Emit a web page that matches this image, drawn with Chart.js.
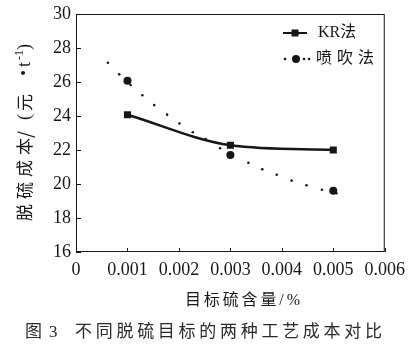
<!DOCTYPE html>
<html>
<head>
<meta charset="utf-8">
<script src="https://cdn.jsdelivr.net/npm/chart.js@4/dist/chart.umd.min.js"></script>
<style>
  html, body { margin: 0; padding: 0; background: #fff; }
</style>
</head>
<body>
<canvas id="chart" width="414" height="352"></canvas>
<script>
// target sulfur content (%) at which both processes were compared
const targets = [0.001, 0.003, 0.005];
const krCost = [24.07, 22.28, 22.0];
const sprayCost = [26.07, 21.7, 19.6];

// dotted trend line of the spray process, read dot by dot off the figure
const sprayTrendX = [0.00062, 0.00084, 0.00106, 0.00129, 0.00152, 0.00177, 0.00201, 0.00227,
  0.00252, 0.0028, 0.00335, 0.00362, 0.0039, 0.00419, 0.00448, 0.00478, 0.00506];
const sprayTrendY = [27.13, 26.45, 25.82, 25.22, 24.64, 24.08, 23.56, 23.04,
  22.64, 22.1, 21.25, 20.87, 20.54, 20.2, 19.93, 19.66, 19.46];

const seriesNames = ['KR法', '喷吹法'];
const xTitle = '目标硫含量/%';
const caption = ['图', '3', '不同脱硫目标的两种工艺成本对比'];

const FONT = '"Liberation Serif", "Noto Sans CJK SC", serif';
const CJK = '"Noto Sans CJK SC", sans-serif';
const INK = '#161616';

const toPoints = (xs, ys) => xs.map((x, i) => ({ x: x, y: ys[i] }));

// spreads the characters of a string over a given width, like the print does
const spreadText = (ctx, text, x, y, width) => {
  const chars = [...text];
  let used = 0;
  chars.forEach(ch => { used += ctx.measureText(ch).width; });
  const gap = chars.length > 1 ? (width - used) / (chars.length - 1) : 0;
  chars.forEach(ch => {
    ctx.fillText(ch, x, y);
    x += ctx.measureText(ch).width + gap;
  });
};

const decor = {
  id: 'decor',
  afterDraw(chart) {
    const ctx = chart.ctx;
    const area = chart.chartArea;
    const xs = chart.scales.x;
    const ys = chart.scales.y;
    ctx.save();

    // frame
    ctx.strokeStyle = INK;
    ctx.lineWidth = 1;
    ctx.strokeRect(area.left + 0.5, area.top + 0.5, area.right - area.left - 1, area.bottom - area.top - 1);

    // inward ticks
    ctx.beginPath();
    xs.ticks.forEach(t => {
      const px = Math.round(xs.getPixelForValue(t.value)) + 0.5;
      ctx.moveTo(px, area.bottom);
      ctx.lineTo(px, area.bottom - 4);
    });
    ys.ticks.forEach(t => {
      const py = Math.round(ys.getPixelForValue(t.value)) + 0.5;
      ctx.moveTo(area.left, py);
      ctx.lineTo(area.left + 5, py);
    });
    ctx.stroke();

    // legend
    ctx.fillStyle = INK;
    ctx.strokeStyle = INK;
    ctx.lineWidth = 2;
    ctx.beginPath();
    ctx.moveTo(283, 33);
    ctx.lineTo(307, 33);
    ctx.stroke();
    ctx.fillRect(291.5, 29.5, 7, 7);
    [285, 304, 309].forEach(px => {
      ctx.beginPath();
      ctx.arc(px, 59, 1.3, 0, Math.PI * 2);
      ctx.fill();
    });
    ctx.beginPath();
    ctx.arc(296, 59, 4, 0, Math.PI * 2);
    ctx.fill();
    ctx.font = '16px ' + FONT;
    ctx.textBaseline = 'middle';
    ctx.textAlign = 'left';
    ctx.fillText(seriesNames[0], 318, 33);
    spreadText(ctx, seriesNames[1], 316, 59, 58);

    // y title, rotated; u = -screen y
    ctx.save();
    ctx.translate(25, 0);
    ctx.rotate(-Math.PI / 2);
    ctx.font = '17px ' + CJK;
    spreadText(ctx, '脱硫成本', -221, 0, 83);
    ctx.font = '18px ' + CJK;
    ctx.fillText('/', -138, 0);
    ctx.font = '18px ' + FONT;
    ctx.fillText('(', -120, 0);
    ctx.font = '17px ' + CJK;
    ctx.fillText('元', -111, 0);
    ctx.font = '16px ' + FONT;
    ctx.textAlign = 'center';
    ctx.fillText('•', -73, 0);
    ctx.textAlign = 'left';
    ctx.font = '18px ' + FONT;
    ctx.fillText('t', -67, 0);
    ctx.font = '12px ' + FONT;
    ctx.fillText('-1', -60, -5);
    ctx.font = '18px ' + FONT;
    ctx.fillText(')', -50, 0);
    ctx.restore();

    // x title
    ctx.font = '16px ' + FONT;
    spreadText(ctx, xTitle, 185, 301, 115);

    // caption
    ctx.fillStyle = '#2a2a2a';
    ctx.font = '17px ' + FONT;
    ctx.fillText(caption[0], 25, 333);
    ctx.fillText(caption[1], 49, 333);
    spreadText(ctx, caption[2], 75, 333, 307);

    ctx.restore();
  }
};

new Chart(document.getElementById('chart'), {
  type: 'scatter',
  data: {
    datasets: [
      {
        label: seriesNames[0],
        data: toPoints(targets, krCost),
        showLine: true,
        cubicInterpolationMode: 'monotone',
        borderColor: INK,
        borderWidth: 2.5,
        pointStyle: 'rect',
        pointRadius: 5,
        pointBackgroundColor: INK,
        pointBorderWidth: 0,
        order: 1
      },
      {
        label: seriesNames[1],
        data: toPoints(targets, sprayCost),
        showLine: false,
        pointStyle: 'circle',
        pointRadius: 4,
        pointBackgroundColor: INK,
        pointBorderWidth: 0,
        order: 2
      },
      {
        label: 'trend',
        data: toPoints(sprayTrendX, sprayTrendY),
        showLine: false,
        pointRadius: 1.3,
        pointBackgroundColor: INK,
        pointBorderWidth: 0,
        order: 3
      }
    ]
  },
  options: {
    responsive: false,
    animation: false,
    layout: { padding: { top: 9, right: 29, left: 0, bottom: 0 } },
    plugins: { legend: { display: false }, tooltip: { enabled: false } },
    scales: {
      x: {
        type: 'linear',
        min: 0,
        max: 0.006,
        grid: { display: false, drawTicks: false },
        border: { display: false },
        ticks: {
          stepSize: 0.001,
          padding: 9,
          color: INK,
          font: { family: FONT, size: 18, lineHeight: 1 },
          callback: v => (v === 0 ? '0' : v.toFixed(3))
        },
        afterFit: s => { s.height = 100; }
      },
      y: {
        min: 16,
        max: 30,
        grid: { display: false, drawTicks: false },
        border: { display: false },
        ticks: {
          stepSize: 2,
          padding: 5,
          color: INK,
          font: { family: FONT, size: 18, lineHeight: 1 }
        },
        afterFit: s => { s.width = 76; }
      }
    }
  },
  plugins: [decor]
});
</script>
</body>
</html>
